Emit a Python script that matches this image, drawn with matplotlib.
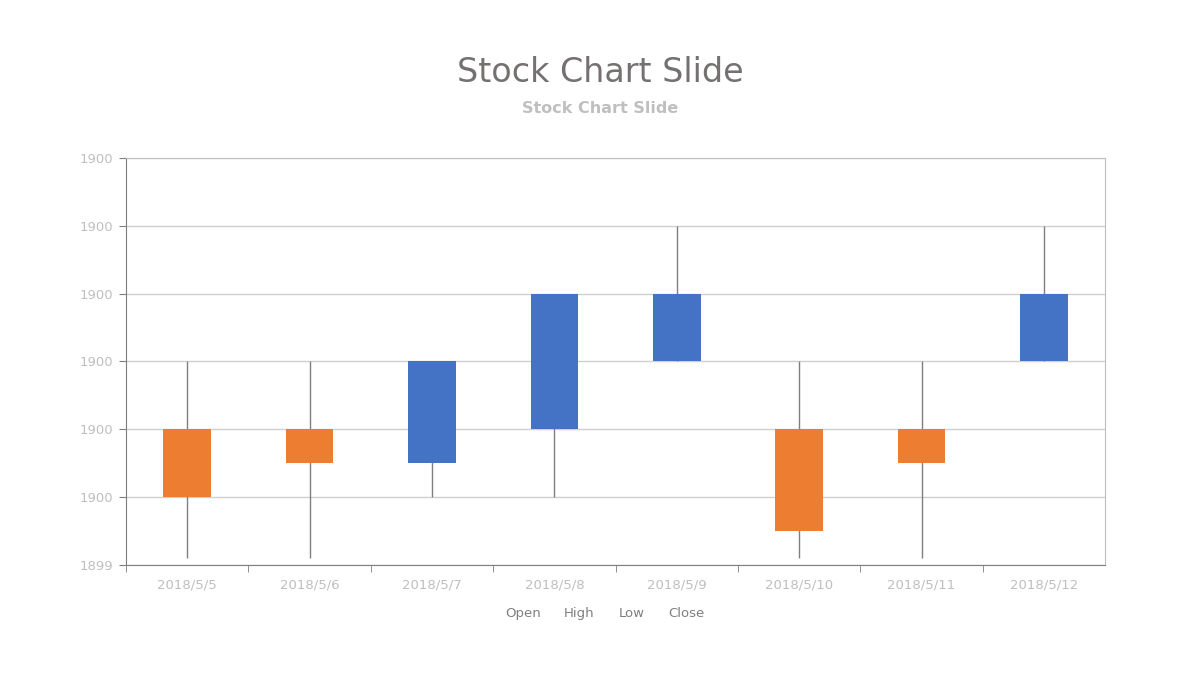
import matplotlib.pyplot as plt
from matplotlib.ticker import FuncFormatter, MultipleLocator
import math

dates = ["2018/5/5", "2018/5/6", "2018/5/7", "2018/5/8",
         "2018/5/9", "2018/5/10", "2018/5/11", "2018/5/12"]
open_ = [1899.60, 1899.60, 1899.55, 1899.60, 1899.70, 1899.60, 1899.60, 1899.70]
high = [1899.70, 1899.70, 1899.70, 1899.80, 1899.90, 1899.70, 1899.70, 1899.90]
low = [1899.41, 1899.41, 1899.50, 1899.50, 1899.70, 1899.41, 1899.41, 1899.70]
close = [1899.50, 1899.55, 1899.70, 1899.80, 1899.80, 1899.45, 1899.55, 1899.80]

up_color = "#4472C4"
down_color = "#ED7D31"

fig = plt.figure(figsize=(12, 6.8), dpi=100)
ax = fig.add_axes([0.105, 0.169, 0.816, 0.599])

x = list(range(len(dates)))
for i in x:
    ax.vlines(i, low[i], high[i], color="#7F7F7F", lw=1, zorder=2)
    bottom = min(open_[i], close[i])
    h = abs(close[i] - open_[i])
    c = up_color if close[i] > open_[i] else down_color
    ax.bar(i, h, bottom=bottom, width=0.39, color=c, zorder=3)

ax.set_xlim(-0.5, len(dates) - 0.5)
ax.set_ylim(1899.4, 1900.0)
ax.yaxis.set_major_locator(MultipleLocator(0.1))
ax.yaxis.set_major_formatter(FuncFormatter(lambda v, p: "%d" % math.floor(v + 0.5 + 1e-9)))
ax.grid(axis="y", color="#D0D0D0", lw=1, zorder=0)

ax.set_xticks(x)
ax.set_xticklabels(dates)
ax.set_xticks([i - 0.5 for i in range(len(dates))], minor=True)
ax.tick_params(axis="x", which="major", length=0, pad=10, labelsize=9.5, labelcolor="#BFBFBF")
ax.tick_params(axis="x", which="minor", length=5, color="#7F7F7F", direction="out")
ax.tick_params(axis="y", length=5, color="#7F7F7F", labelsize=9.5, labelcolor="#BFBFBF", pad=4)

ax.spines["left"].set_color("#7F7F7F")
ax.spines["bottom"].set_color("#7F7F7F")
ax.spines["top"].set_color("#BFBFBF")
ax.spines["right"].set_color("#BFBFBF")

fig.text(0.5, 0.894, "Stock Chart Slide", ha="center", va="center", fontsize=24, color="#767171")
fig.text(0.5, 0.841, "Stock Chart Slide", ha="center", va="center", fontsize=11.5, color="#BFBFBF", fontweight="bold")

legend_items = ["Open", "High", "Low", "Close"]
legend_x = [523, 579, 632, 686]
for name, lx in zip(legend_items, legend_x):
    fig.text(lx / 1200, 1 - 617 / 680, name, ha="center", va="baseline", fontsize=9.5, color="#7F7F7F")

fig.savefig("out.png", dpi=100)
